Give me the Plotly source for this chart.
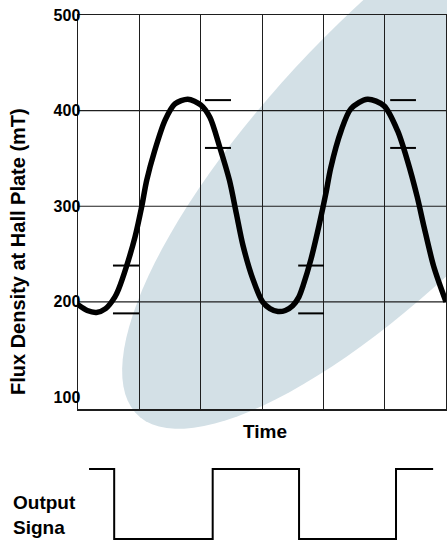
import numpy as np
import plotly.graph_objects as go

# ---------------- data ----------------
time = [0.0, 0.15, 0.3, 0.45, 0.6, 0.66, 0.79, 0.93, 1.04, 1.12, 1.25, 1.42, 1.58, 1.79,
        2.0, 2.15, 2.31, 2.47, 2.58, 2.69, 2.85, 3.01, 3.13, 3.26, 3.38, 3.5, 3.6, 3.67,
        3.8, 3.93, 4.04, 4.12, 4.29, 4.45, 4.72, 4.99, 5.21, 5.37, 5.53, 5.64, 5.8, 6.0]
flux = [197, 191, 189, 193, 205, 213, 237, 268, 300, 327, 358, 390, 407, 412,
        406, 393, 362, 327, 293, 259, 224, 200, 193, 190, 191, 196, 205, 217,
        245, 280, 313, 340, 379, 402, 412, 405, 379, 348, 310, 279, 237, 200]

# short threshold marks (start time, end time, flux level)
mark_start = [0.57, 0.57, 2.07, 2.07, 3.59, 3.59, 5.09, 5.09]
mark_end = [0.995, 0.995, 2.495, 2.495, 4.01, 4.01, 5.51, 5.51]
mark_level = [238, 188, 411, 361, 238, 188, 411, 361]

# output signal (step transitions)
out_time = [0.18, 0.59, 2.196, 3.604, 5.185, 5.79]
out_level = [1, 0, 1, 0, 1, 1]

x_range = [0, 6]
y_ticks = [100, 200, 300, 400, 500]
h_grid = [200, 300, 400]

# ---------------- layout geometry ----------------
W, H = 447, 544
ML, MR, MT, MB = 78, 1, 15, 1
PW = W - ML - MR
PH = H - MT - MB


def px_to_paper(px, py):
    return (px - ML) / PW, (H - MB - py) / PH


GRID = "#1e1e1e"
FONT = "Liberation Sans, Arial, sans-serif"

fig = go.Figure()

# horizontal grid lines (under the curve)
gx, gy = [], []
for v in h_grid:
    gx += [x_range[0], x_range[1], None]
    gy += [v, v, None]
fig.add_trace(go.Scatter(
    x=gx, y=gy, mode="lines", line=dict(color=GRID, width=1.2),
    xaxis="x", yaxis="y", showlegend=False, hoverinfo="skip"))

# flux curve
fig.add_trace(go.Scatter(
    x=time, y=flux, mode="lines",
    line=dict(color="black", width=5.5, shape="spline", smoothing=0.8),
    xaxis="x", yaxis="y", showlegend=False, hoverinfo="skip"))

# threshold marks
mx, my = [], []
for s, e, v in zip(mark_start, mark_end, mark_level):
    mx += [s, e, None]
    my += [v, v, None]
fig.add_trace(go.Scatter(
    x=mx, y=my, mode="lines", line=dict(color="black", width=2),
    xaxis="x", yaxis="y", showlegend=False, hoverinfo="skip"))

# output signal
fig.add_trace(go.Scatter(
    x=out_time, y=out_level, mode="lines",
    line=dict(color="black", width=2, shape="hv"),
    xaxis="x2", yaxis="y2", showlegend=False, hoverinfo="skip"))

shapes = []
# decorative background ellipse
cx, cy, a, b, th = 405, 138, 385, 128, np.deg2rad(46)
ux, uy = np.cos(th), -np.sin(th)
nx, ny = np.sin(th), np.cos(th)
phi = np.linspace(0, 2 * np.pi, 120)
pts = []
for p in phi:
    X = cx + a * np.cos(p) * ux + b * np.sin(p) * nx
    Y = cy + a * np.cos(p) * uy + b * np.sin(p) * ny
    pts.append(px_to_paper(X, Y))
path = "M " + " L ".join(f"{x:.4f},{y:.4f}" for x, y in pts) + " Z"
shapes.append(dict(type="path", path=path, xref="paper", yref="paper",
                   fillcolor="#d3e0e6", line=dict(width=0), layer="below"))

main_bottom = (H - MB - 409) / PH
out_top = (H - MB - 465) / PH

ann = [
    dict(text="<b>Time</b>", x=px_to_paper(265, 0)[0], y=px_to_paper(0, 431)[1],
         xref="paper", yref="paper", showarrow=False, xanchor="center", yanchor="middle",
         font=dict(size=19, color="black", family=FONT)),
    dict(text="<b>Flux Density at Hall Plate (mT)</b>", x=px_to_paper(18, 0)[0],
         y=px_to_paper(0, 252)[1], xref="paper", yref="paper", showarrow=False,
         textangle=-90, xanchor="center", yanchor="middle",
         font=dict(size=20, color="black", family=FONT)),
    dict(text="<b>Output</b><br><b>Signa</b>", x=px_to_paper(11, 0)[0],
         y=px_to_paper(0, 515)[1], xref="paper", yref="paper", showarrow=False,
         xanchor="left", yanchor="middle", align="left",
         font=dict(size=19, color="black", family=FONT)),
]

fig.update_layout(
    width=W, height=H,
    margin=dict(l=ML, r=MR, t=MT, b=MB, pad=0),
    paper_bgcolor="white", plot_bgcolor="rgba(0,0,0,0)",
    font=dict(family=FONT, color="black"),
    showlegend=False,
    shapes=shapes, annotations=ann,
    xaxis=dict(domain=[0, 1], range=x_range, tick0=0, dtick=1, showgrid=True,
               gridcolor=GRID, gridwidth=1, showticklabels=False, ticks="",
               showline=True, mirror=True, linecolor=GRID, linewidth=1.5,
               zeroline=False, anchor="y", automargin=False),
    yaxis=dict(domain=[main_bottom, 1], range=[88, 500], tickvals=y_ticks,
               showgrid=False, zeroline=False, showline=True, mirror=True,
               linecolor=GRID, linewidth=1.5, ticks="", ticklabelstandoff=-7,
               tickfont=dict(size=16, color="black", family=FONT, weight="bold"),
               anchor="x", automargin=False),
    xaxis2=dict(domain=[0, 1], range=x_range, visible=False, anchor="y2"),
    yaxis2=dict(domain=[0, out_top], range=[-0.057, 1.057], visible=False, anchor="x2"),
)

fig.write_html(
    "out.html",
    config={"displayModeBar": False, "staticPlot": True},
    post_script="document.body.style.margin='0';document.body.style.overflow='hidden';",
)
